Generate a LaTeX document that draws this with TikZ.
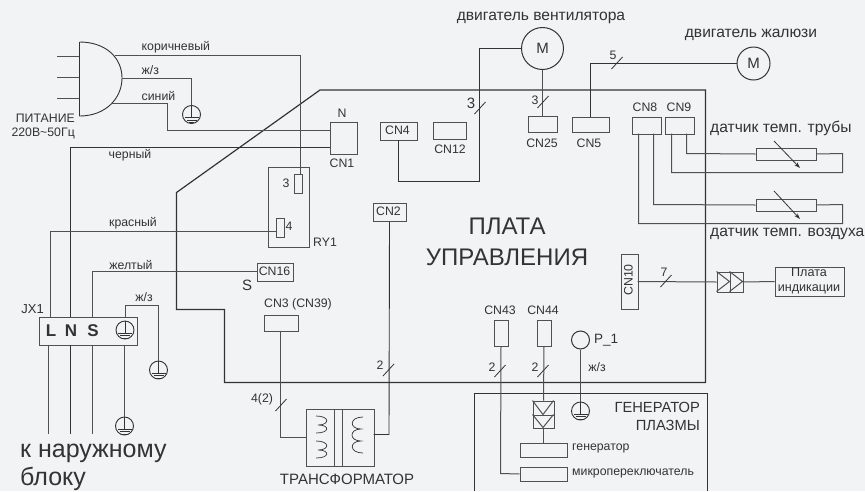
\documentclass[tikz,border=0pt]{standalone}
\usepackage{fontspec}
\setmainfont{Liberation Sans}
\definecolor{bgc}{HTML}{F2F3F5}
\definecolor{wire}{HTML}{505050}
\definecolor{ink}{HTML}{333333}
\usetikzlibrary{arrows.meta}
\tikzset{
  w/.style={draw=wire,line width=1pt},
  bw/.style={draw=ink,line width=.9pt},
  box/.style={draw=wire,line width=1pt,inner sep=0pt,rectangle,anchor=north west},
  lab/.style={inner sep=0pt,text=ink,font=\fontsize{12.3}{14}\selectfont},
  lab12/.style={inner sep=0pt,text=ink,font=\fontsize{15.6}{17}\selectfont},
  big/.style={inner sep=0pt,text=ink,align=center,font=\fontsize{14.7}{16}\selectfont},
  gnd/.style={circle,draw=ink,line width=.9pt,minimum size=18pt,inner sep=0pt,
    path picture={\begin{scope}[shift={(path picture bounding box.center)}]
      \draw[ink,line width=.8pt] (0,-9)--(0,3) (-7,3)--(7,3) (-5,5.5)--(5,5.5) (-2.5,8)--(2.5,8);
    \end{scope}}},
  pics/tick/.style={code={\draw[draw=ink,line width=.8pt] (-5.5,6)--(5.5,-6);}}
}
\newcommand{\bx}[5]{\node[box,minimum width=#4pt,minimum height=#5pt] (#1) at (#2,#3) {};}
\begin{document}
\begin{tikzpicture}[x=1pt,y=-1pt]
\fill[bgc] (0,0) rectangle (865,491);
\useasboundingbox (0,0) rectangle (865,491);
% board
\draw[bw,line width=1.2pt] (320,90)--(705.5,90)--(705.5,382.5)--(224.5,382.5)--(224.5,309.5)--(176.5,309.5)--(176.5,192.5)--cycle;
% plug
\draw[bw] (79.5,42)--(79.5,116) .. controls (106,116) and (122,98) .. (122,78) .. controls (122,58) and (106,42) .. (79.5,42);
\coordinate (plugA) at (114.5,55.5);\coordinate (plugB) at (122,78.5);\coordinate (plugC) at (111,103.5);
\foreach \y in {56.5,77.5,98.5} \draw[w] (57,\y)--(79,\y);
\node[lab,anchor=east,align=right] at (75,118) {ПИТАНИЕ};
\node[lab,anchor=east,align=right] at (75,133) {220В\textasciitilde 50Гц};
\node[lab,anchor=west] at (141.5,47) {коричневый};
\node[lab,anchor=west] at (141.5,70) {ж/з};
\node[lab,anchor=west] at (141.5,96) {синий};
\node[lab] at (130,155) {черный};
\node[lab] at (133,223) {красный};
\node[lab] at (131,265) {желтый};
% grounds
\node[gnd] (g1) at (191.5,114.5) {};
\node[gnd] (g2) at (158.5,370) {};
\node[gnd] (g3) at (124.5,426) {};
\node[gnd] (g5) at (580.5,411) {};
% CN1
\bx{cn1}{329.5}{121.5}{27}{32}
\node[lab] at (342,113) {N};
\node[lab] at (342,163) {CN1};
% relay
\bx{ry}{267.5}{166.5}{41}{80}
\bx{p3}{293.5}{173.5}{8}{19}
\bx{p4}{275.5}{217.5}{8}{19}
\node[lab] at (286,183) {3};
\node[lab] at (289,226) {4};
\node[lab,anchor=west] at (313,242) {RY1};
% JX1
\bx{jx}{38.5}{316.5}{98.5}{28}
\node[lab,anchor=east,font=\fontsize{13}{15}\selectfont] at (44,309) {JX1};
\node[inner sep=0pt,font=\bfseries\fontsize{17}{19}\selectfont,text=ink] at (51,331) {L};
\node[inner sep=0pt,font=\bfseries\fontsize{17}{19}\selectfont,text=ink] at (71,331) {N};
\node[inner sep=0pt,font=\bfseries\fontsize{17}{19}\selectfont,text=ink] at (93,331) {S};
\node[gnd] (g4) at (125,330) {};
\node[inner sep=0pt,anchor=base west,text=ink,font=\fontsize{25}{27}\selectfont] at (20,457) {к наружному};
\node[inner sep=0pt,anchor=base west,text=ink,font=\fontsize{25}{27}\selectfont] at (20,485.5) {блоку};
\coordinate (endL) at (48.5,434);\coordinate (endN) at (70.5,434);\coordinate (endS) at (92.5,434);
% wires at left
\draw[w] (plugA)--(300.5,55.5)--(300.5,173.5);
\draw[w] (plugB)--(191.5,78.5)--(g1.north);
\draw[w] (plugC)--(167.5,103.5)--(167.5,130.5)--(329.5,130.5);
\draw[bw] (329.5,147.5)--(70.5,147.5)--(70.5,316.5);
\draw[bw] (70.5,344.5)--(endN);
\draw[w] (50.5,316.5)--(50.5,231.5)--(275.5,231.5);
\draw[w] (48.5,344.5)--(endL);
\draw[w] (92.5,316.5)--(92.5,271.5)--(256.5,271.5);
\draw[w] (92.5,344.5)--(endS);
\draw[w] (125.5,316.5)--(125.5,305.5)--(158.5,305.5)--(g2.north);
\draw[w] (124.5,344.5)--(g3.north);
\node[lab] at (144,297) {ж/з};
% CN16 etc
\bx{cn16}{256.5}{262.5}{36}{18}
\node[lab] at (274.5,271.5) {CN16};
\node[lab,font=\fontsize{15}{17}\selectfont] at (247,285) {S};
\bx{cn3}{263.5}{314.5}{34}{16}
\node[lab,anchor=west] at (264,304) {CN3 (CN39)};
\bx{cn2}{372.5}{202.5}{33}{18}
\node[lab] at (388.5,211.5) {CN2};
% transformer
\bx{tr}{305.5}{408.5}{68}{57}
\draw[w] (334.5,408.5)--(334.5,465.5) (342.5,408.5)--(342.5,465.5);
\draw[ink,line width=.7pt] (316,416) .. controls (330,416) and (330,425) .. (318,425) .. controls (330,425) and (330,433) .. (316,433);
\draw[ink,line width=.7pt] (316,441) .. controls (330,441) and (330,450) .. (318,450) .. controls (330,450) and (330,458) .. (316,458);
\draw[ink,line width=.7pt] (363,417) .. controls (349,417) and (349,429) .. (361,429) .. controls (349,429) and (349,441) .. (361,441) .. controls (349,441) and (349,453) .. (363,453);
\node[lab,font=\fontsize{15}{17}\selectfont] at (347,479) {ТРАНСФОРМАТОР};
\draw[w] (280.5,330.5)--(280.5,437.5)--(305.5,437.5);
\draw[bw] (cn2.south)--(389,434.5)--(373.5,434.5);
\pic at (281,405) {tick};
\node[lab] at (262,399) {4(2)};
\pic at (388.5,370) {tick};
\node[lab] at (380,365) {2};
% motors
\node[circle,draw=ink,line width=1pt,minimum size=42pt,inner sep=0pt,font=\fontsize{15}{17}\selectfont,text=ink] (m1) at (542.5,48.5) {M};
\node[circle,draw=ink,line width=1pt,minimum size=33pt,inner sep=0pt,font=\fontsize{15}{17}\selectfont,text=ink] (m2) at (753.5,63.5) {M};
\node[lab12] at (541,18) {двигатель вентилятора};
\node[lab12] at (751,35) {двигатель жалюзи};
\bx{cn25}{527.5}{115.5}{29}{16}
\node[lab] at (542,143) {CN25};
\bx{cn5}{571.5}{116.5}{37}{15}
\node[lab] at (589,143) {CN5};
\bx{cn4}{379.5}{121.5}{37}{18}
\node[lab] at (397.5,130.5) {CN4};
\bx{cn12}{432.5}{121.5}{33}{17}
\node[lab] at (450,149) {CN12};
\draw[w] (m1.south)--(542.5,115.5);
\draw[bw] (m1.west)--(479.5,48.5)--(479.5,181.5)--(398.5,181.5)--(398.5,139.5);
\draw[bw] (m2.west)--(590.5,63.5)--(590.5,116.5);
\pic at (543,102) {tick};
\node[lab] at (535,100) {3};
\pic at (480,108) {tick};
\node[lab,font=\fontsize{15}{17}\selectfont] at (471,103) {3};
\pic at (617,63) {tick};
\node[lab] at (613,55) {5};
% sensors
\bx{cn8}{631.5}{116.5}{29}{17}
\bx{cn9}{664.5}{116.5}{29}{17}
\node[lab] at (645,107) {CN8};
\node[lab] at (679,107) {CN9};
\bx{r1}{755.5}{147.5}{60}{12}
\bx{r2}{755.5}{198.5}{60}{12}
\draw[w] (686.5,133.5)--(686.5,153.5)--(r1.west);
\draw[w] (r1.east)--(842.5,153.5)--(842.5,172.5)--(671.5,172.5)--(671.5,133.5);
\draw[w] (653.5,133.5)--(653.5,204.5)--(r2.west);
\draw[w] (r2.east)--(842.5,204.5)--(842.5,223.5)--(638.5,223.5)--(638.5,133.5);
\draw[ink,line width=.8pt,-{Stealth[length=6pt,width=4pt]}] (774,141)--(800,168);
\draw[ink,line width=.8pt,-{Stealth[length=6pt,width=4pt]}] (774,191)--(800,219);
\node[lab12,anchor=west] at (710,128) {датчик темп. трубы};
\node[lab12,anchor=west] at (710,234) {датчик темп. воздуха};
% CN10
\bx{cn10}{620.5}{253.5}{17}{55}
\node[lab,rotate=90] at (628.5,280) {CN10};
\bx{j1}{716.5}{271.5}{13}{20}
\bx{j2}{729.5}{271.5}{13}{20}
\draw[w] (716.5,271.5)--(729.5,281.5)--(716.5,291.5) (729.5,271.5)--(742.5,281.5)--(729.5,291.5);
\bx{ind}{774.5}{266.5}{69}{29}
\node[lab,align=center,font=\fontsize{12.6}{15}\selectfont] at (809,280.5) {Плата\\индикации};
\draw[w] (637.5,281.5)--(j1.west);
\draw[w] (j2.east)--(774.5,281.5);
\pic at (666,281) {tick};
\node[lab] at (664,272) {7};
% title
\node[inner sep=0pt,text=ink,align=center,font=\fontsize{24}{31}\selectfont] at (507,242) {ПЛАТА\\УПРАВЛЕНИЯ};
% plasma
\bx{cn43}{493.5}{319.5}{14}{26}
\bx{cn44}{536.5}{319.5}{14}{26}
\node[lab] at (500,310) {CN43};
\node[lab] at (543,310) {CN44};
\node[circle,draw=ink,line width=1pt,minimum size=18pt,inner sep=0pt] (p1) at (580.5,340) {};
\node[inner sep=0pt,anchor=west,text=ink,font=\fontsize{13.5}{16}\selectfont] at (594,340) {P\_1};
\node[lab] at (597,367) {ж/з};
\draw[w] (p1.south)--(g5.north);
\draw[bw] (474.5,491)--(474.5,393.5)--(707.5,393.5)--(707.5,491);
\node[big,anchor=east] at (700,407) {ГЕНЕРАТОР};
\node[big,anchor=east] at (700,425) {ПЛАЗМЫ};
\bx{c1}{532.5}{400.5}{21}{14}
\bx{c2}{532.5}{414.5}{21}{13}
\draw[w] (532.5,400.5)--(543,414.5)--(553.5,400.5) (532.5,414.5)--(543,427.5)--(553.5,414.5);
\bx{gen}{519.5}{442.5}{47}{14}
\bx{mic}{519.5}{466.5}{47}{14}
\node[lab,anchor=west] at (572,448) {генератор};
\node[lab,anchor=west] at (572,473) {микропереключатель};
\draw[w] (cn44.south)--(c1.north);
\draw[w] (c2.south)--(gen.north);
\draw[w] (cn43.south)--(500.5,473.5)--(mic.west);
\pic at (500,371) {tick};
\node[lab] at (492,367) {2};
\pic at (543,371) {tick};
\node[lab] at (535,367) {2};
\end{tikzpicture}
\end{document}
